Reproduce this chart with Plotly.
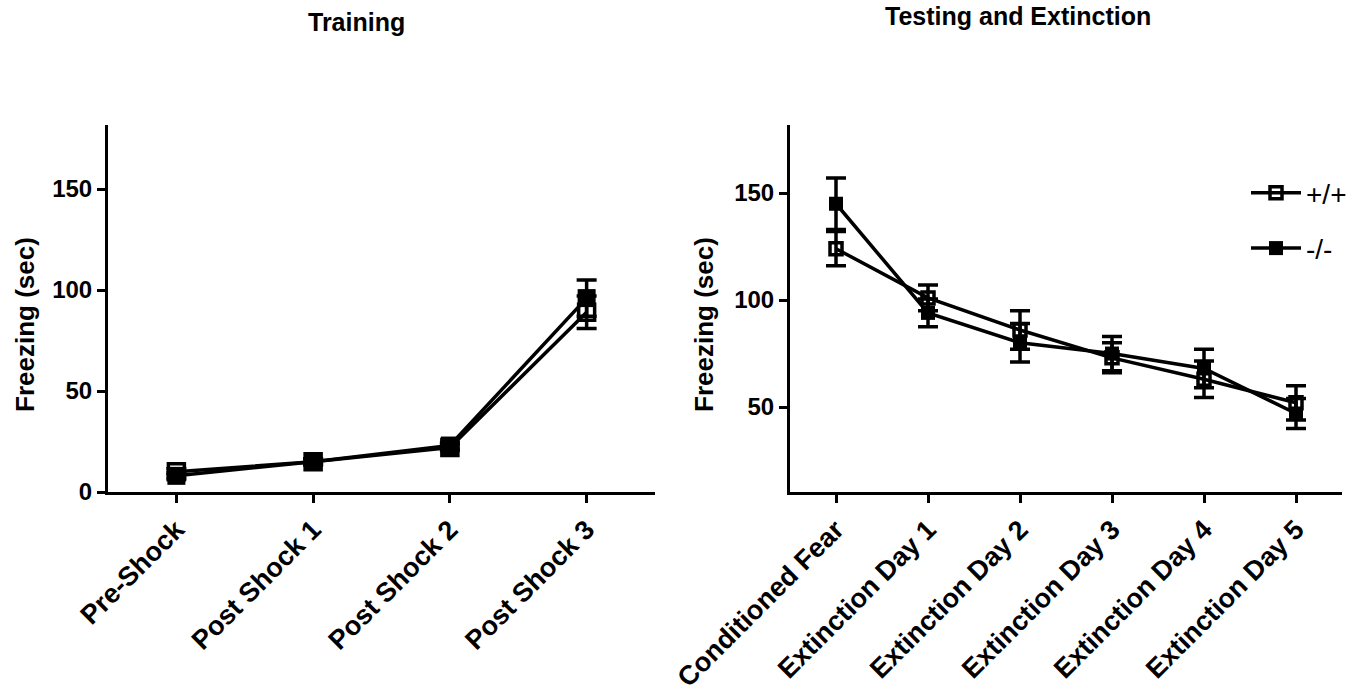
import plotly.graph_objects as go

W, H = 1371, 692

# ---- data ----
train_cats = ["Pre-Shock", "Post Shock 1", "Post Shock 2", "Post Shock 3"]
train_wt = [10, 15, 22, 89]
train_wt_err = [1.5, 1.5, 1.5, 8]
train_ko = [8, 15, 23, 96]
train_ko_err = [1.5, 1.5, 1.5, 9]

test_cats = ["Conditioned Fear", "Extinction Day 1", "Extinction Day 2",
             "Extinction Day 3", "Extinction Day 4", "Extinction Day 5"]
test_wt = [124, 101, 86, 73, 63, 52]
test_wt_err = [8, 6, 9, 7, 8.5, 8]
test_ko = [145, 94, 80, 75, 68, 47]
test_ko_err = [12, 6.5, 9, 8, 9, 7]

series_names = ["+/+", "-/-"]

FONT = "Liberation Sans, Arial, sans-serif"


def px_x(p):
    return p / W


def px_y(p):
    return 1 - p / H


fig = go.Figure()


def add_series(x, y, err, name, filled, xa, ya, size, showlegend):
    fig.add_trace(go.Scatter(
        x=x, y=y, name=name, mode="lines+markers",
        xaxis=xa, yaxis=ya, showlegend=showlegend, legendgroup=name,
        line=dict(color="black", width=3.5),
        marker=dict(symbol="square" if filled else "square-open",
                    size=size, color="black",
                    line=dict(color="black", width=3.5 if not filled else 0)),
        error_y=dict(type="data", array=err, visible=True, color="black",
                     thickness=3.5, width=10),
    ))


add_series(train_cats, train_wt, train_wt_err, series_names[0], False, "x", "y", 16, False)
add_series(train_cats, train_ko, train_ko_err, series_names[1], True, "x", "y", 18, False)
add_series(test_cats, test_wt, test_wt_err, series_names[0], False, "x2", "y2", 12, True)
add_series(test_cats, test_ko, test_ko_err, series_names[1], True, "x2", "y2", 14, True)

ytickfont = dict(family=FONT, size=24, color="black", weight="bold")
xtickfont = dict(family=FONT, size=27, color="black", weight="bold")
axis_common = dict(showline=True, linecolor="black", linewidth=3, ticks="outside",
                   ticklen=8, tickwidth=3, tickcolor="black", showgrid=False,
                   zeroline=False, automargin=False)

fig.update_layout(
    template="none",
    width=W, height=H, autosize=False,
    margin=dict(l=0, r=0, t=0, b=0, pad=0),
    plot_bgcolor="white", paper_bgcolor="white",
    xaxis=dict(domain=[px_x(108), px_x(655)], anchor="y", range=[-0.5, 3.5],
               tickangle=-45, tickfont=xtickfont, **axis_common),
    yaxis=dict(domain=[px_y(492), px_y(125)], anchor="x", range=[0, 181.7],
               tickvals=[0, 50, 100, 150], tickfont=ytickfont, **axis_common),
    xaxis2=dict(domain=[px_x(790), px_x(1342)], anchor="y2", range=[-0.5, 5.5],
                tickangle=-45, tickfont=xtickfont, **axis_common),
    yaxis2=dict(domain=[px_y(492), px_y(125)], anchor="x2", range=[10.3, 181.8],
                tickvals=[50, 100, 150], tickfont=ytickfont, **axis_common),
    legend=dict(x=px_x(1246), y=px_y(168), xanchor="left", yanchor="top",
                font=dict(family=FONT, size=28, color="black"),
                tracegroupgap=16, itemwidth=50, bgcolor="rgba(0,0,0,0)"),
    showlegend=True,
)

annos = [
    dict(text="Training", x=px_x(356), y=px_y(22)),
    dict(text="Testing and Extinction", x=px_x(1018), y=px_y(16)),
]
for a in annos:
    fig.add_annotation(xref="paper", yref="paper", xanchor="center", yanchor="middle",
                       showarrow=False, font=dict(family=FONT, size=25, color="black",
                                                  weight="bold"), **a)

for xc in (25, 704):
    fig.add_annotation(text="Freezing (sec)", xref="paper", yref="paper",
                       x=px_x(xc), y=px_y(325), xanchor="center", yanchor="middle",
                       textangle=-90, showarrow=False,
                       font=dict(family=FONT, size=26, color="black", weight="bold"))

fig.write_html("out.html")
